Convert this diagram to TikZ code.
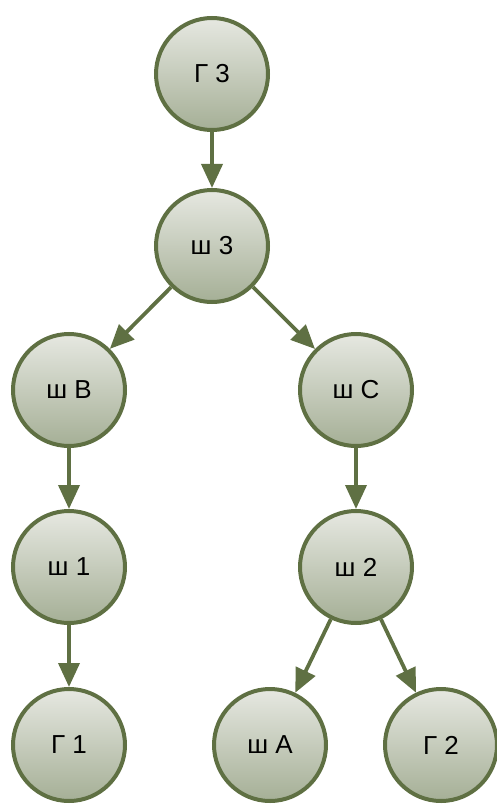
\documentclass[tikz,border=0pt]{standalone}
\usepackage{fontspec}
\setmainfont{Liberation Sans}
\usetikzlibrary{arrows.meta}
\definecolor{edgeg}{HTML}{5F7043}
\definecolor{topc}{HTML}{E6E8E1}
\definecolor{botc}{HTML}{A5AF96}
\tikzset{
  vnode/.style={circle, draw=edgeg, line width=4pt, minimum size=112pt, inner sep=0pt,
    top color=topc, bottom color=botc, font=\fontsize{26}{30}\selectfont},
  conn/.style={draw=edgeg, line width=3.8pt, -{Triangle[length=24pt,width=21pt]}}
}
\begin{document}
\begin{tikzpicture}[x=1pt,y=-1pt]
\useasboundingbox (0,0) rectangle (496,805);
\node[vnode] (g3) at (212,74) {Г 3};
\node[vnode] (s3) at (212,246) {ш 3};
\node[vnode] (sb) at (69,390) {ш В};
\node[vnode] (sc) at (356,390) {ш С};
\node[vnode] (s1) at (69,567) {ш 1};
\node[vnode] (s2) at (356,567) {ш 2};
\node[vnode] (g1) at (69,745) {Г 1};
\node[vnode] (sa) at (270,745) {ш А};
\node[vnode] (g2) at (441,745) {Г 2};
\draw[conn] (g3) -- (s3);
\draw[conn] (s3) -- (sb);
\draw[conn] (s3) -- (sc);
\draw[conn] (sb) -- (s1);
\draw[conn] (s1) -- (g1);
\draw[conn] (sc) -- (s2);
\draw[conn] (s2) -- (sa);
\draw[conn] (s2) -- (g2);
\end{tikzpicture}
\end{document}
